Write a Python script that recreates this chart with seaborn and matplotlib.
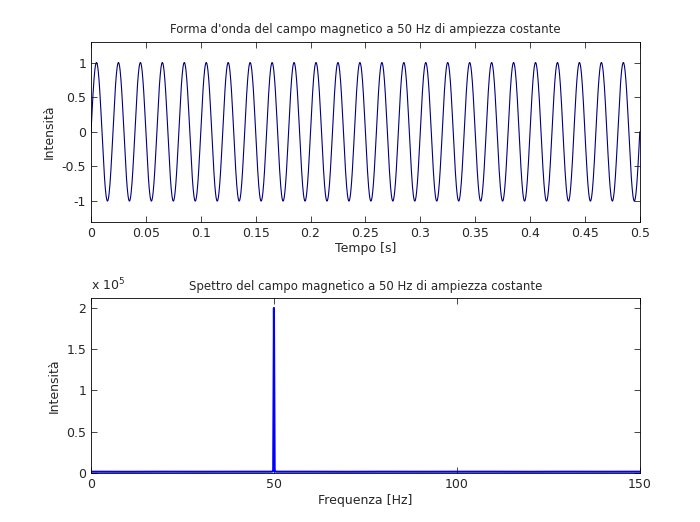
import numpy as np
import pandas as pd
import seaborn as sns
import matplotlib
matplotlib.use("Agg")
import matplotlib.pyplot as plt

# Signal parameters (top panel)
signal_freq_hz = 50
signal_amp = 1.0
t_end = 0.5
n_samples = 2000

# Spectrum (bottom panel)
spec_freqs = [0, 10, 20, 30, 40, 49.0, 49.5, 49.8, 49.9, 50.0, 50.1, 50.2, 50.5, 51.0, 60, 70, 80, 90, 100, 110, 120, 130, 140, 150]
spec_vals = [1500, 1400, 1500, 1450, 1500, 1500, 1600, 2000, 100000, 200000, 100000, 2000, 1600, 1500, 1500, 1400, 1500, 1450, 1500, 1500, 1400, 1500, 1450, 1500]

top_xticks = [0, 0.05, 0.1, 0.15, 0.2, 0.25, 0.3, 0.35, 0.4, 0.45, 0.5]
top_yticks = [-1, -0.5, 0, 0.5, 1]
bot_xticks = [0, 50, 100, 150]
bot_yticks = [0, 0.5e5, 1e5, 1.5e5, 2e5]

t = np.linspace(0, t_end, n_samples)
wave = pd.DataFrame({"t": t, "v": signal_amp * np.sin(2 * np.pi * signal_freq_hz * t)})
spec = pd.DataFrame({"f": spec_freqs, "v": spec_vals})

sns.set_style("white")
plt.rcParams["font.family"] = "DejaVu Sans"
fig = plt.figure(figsize=(7, 5.22), dpi=100)
ax1 = fig.add_axes([0.13, 0.575, 0.784, 0.345])
ax2 = fig.add_axes([0.13, 0.094, 0.784, 0.335])

sns.lineplot(data=wave, x="t", y="v", ax=ax1, color="#00007f", linewidth=0.8)
ax1.set_xlim(0, 0.5); ax1.set_ylim(-1.3, 1.3)
ax1.set_xticks(top_xticks); ax1.set_xticklabels([f"{x:g}" for x in top_xticks])
ax1.set_yticks(top_yticks); ax1.set_yticklabels([f"{y:g}" for y in top_yticks])
ax1.set_xlabel("Tempo [s]", fontsize=9, labelpad=2)
ax1.set_ylabel("Intensità", fontsize=9)
ax1.set_title("Forma d'onda del campo magnetico a 50 Hz di ampiezza costante", fontsize=8.5)

sns.lineplot(data=spec, x="f", y="v", ax=ax2, color="#0000ff", linewidth=1.5)
ax2.set_xlim(0, 150); ax2.set_ylim(0, 2.12e5)
ax2.set_xticks(bot_xticks); ax2.set_xticklabels([str(x) for x in bot_xticks])
ax2.set_yticks(bot_yticks); ax2.set_yticklabels([f"{y/1e5:g}" for y in bot_yticks])
ax2.text(0, 1.03, r"x 10$^5$", transform=ax2.transAxes, fontsize=9, ha="left", va="bottom")
ax2.set_xlabel("Frequenza [Hz]", fontsize=9, labelpad=2)
ax2.set_ylabel("Intensità", fontsize=9)
ax2.set_title("Spettro del campo magnetico a 50 Hz di ampiezza costante", fontsize=8.5)

for ax in (ax1, ax2):
    for s in ax.spines.values():
        s.set_visible(True); s.set_color("black"); s.set_linewidth(0.6)
    ax.tick_params(direction="in", length=4, labelsize=9, top=True, right=True, bottom=True, left=True, width=0.6)

fig.savefig("out.png", dpi=100, facecolor="white")
